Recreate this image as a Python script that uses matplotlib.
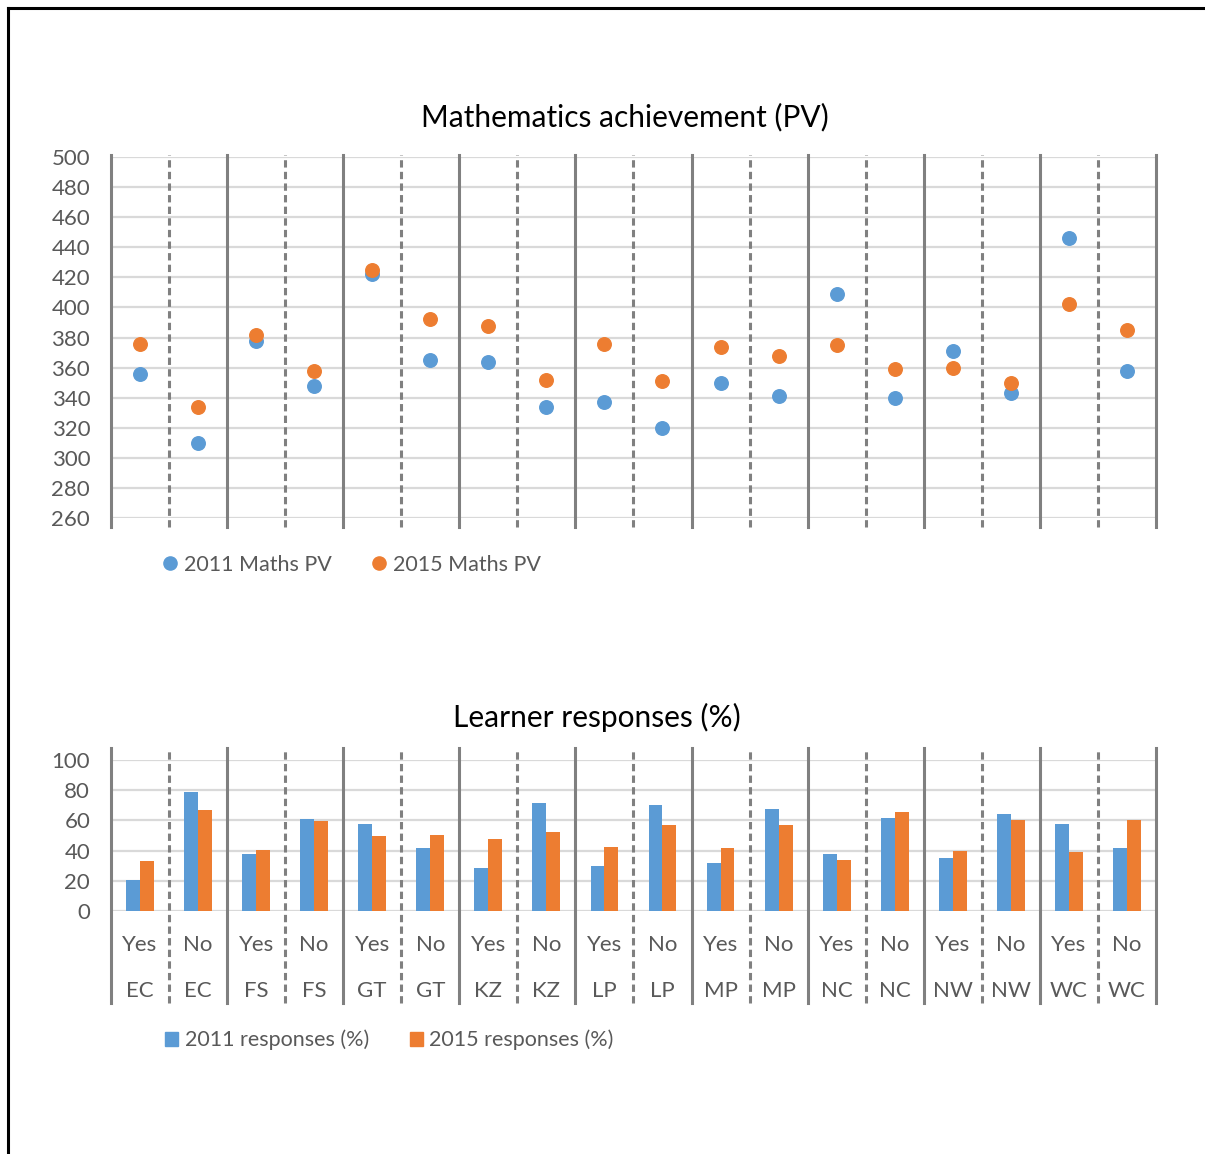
import numpy as np
import matplotlib.pyplot as plt
import matplotlib.transforms as mtransforms
from matplotlib.lines import Line2D
from matplotlib.patches import Patch

plt.rcParams['font.family'] = ['Lato', 'DejaVu Sans']

provinces = ["EC", "FS", "GT", "KZ", "LP", "MP", "NC", "NW", "WC"]
answers = ["Yes", "No"]

# mean maths plausible values, Yes/No per province
pv_2011 = [356, 310, 378, 348, 422, 365, 364, 334, 337, 320,
           350, 341, 409, 340, 371, 343, 446, 358]
pv_2015 = [376, 334, 382, 358, 425, 392, 388, 352, 376, 351,
           374, 368, 375, 359, 360, 350, 402, 385]

# share of learners giving each answer (%)
resp_2011 = [20.5, 79, 38, 61, 57.5, 42, 28.5, 71.5, 29.5, 70,
             32, 67.5, 38, 61.5, 35, 64.5, 57.5, 42]
resp_2015 = [33, 67, 40.5, 59.5, 49.5, 50, 47.5, 52, 42.5, 57,
             42, 57, 34, 65.5, 39.5, 60, 39, 60.5]

pv_ticks = list(range(260, 501, 20))
resp_ticks = list(range(0, 101, 20))

BLUE = '#5b9bd5'
ORANGE = '#ed7d31'
GRID = '#d9d9d9'
SEP = '#808080'
TXT = '#595959'

cat_ans = answers * len(provinces)
cat_prov = [p for p in provinces for _ in answers]
n = len(cat_ans)
xc = np.arange(n) + 0.5

fig = plt.figure(figsize=(12.05, 11.54), dpi=100)

# outer frame (left and top edges)
fig.add_artist(Line2D([0.0066, 0.0066], [0.0, 0.9935], color='black', lw=2.2))
fig.add_artist(Line2D([0.0066, 1.0], [0.9935, 0.9935], color='black', lw=2.2))


def style_axes(ax, ticks, lo, hi):
    ax.set_xlim(0, n)
    ax.set_ylim(ticks[0], ticks[-1])
    ax.set_yticks(ticks)
    ax.set_xticks([])
    for s in ax.spines.values():
        s.set_visible(False)
    ax.yaxis.grid(True, color=GRID, lw=1.6)
    ax.set_axisbelow(True)
    ax.tick_params(axis='y', length=0, pad=15, labelsize=16, labelcolor=TXT)
    trans = mtransforms.blended_transform_factory(ax.transData, ax.transAxes)
    for i in range(n + 1):
        ls = '-' if i % 2 == 0 else (0, (2.4, 1.4))
        ax.plot([i, i], [lo, hi], transform=trans, color=SEP, lw=2.2,
                ls=ls, clip_on=False, zorder=1.5)


# top panel: scatter of plausible values
ax1 = fig.add_axes([0.0921, 0.5511, 0.8672, 0.3128])
style_axes(ax1, pv_ticks, -0.025, 1.006)
ax1.scatter(xc, pv_2011, s=95, color=BLUE, zorder=3, label='2011 Maths PV')
ax1.scatter(xc, pv_2015, s=95, color=ORANGE, zorder=3, label='2015 Maths PV')
fig.text(0.5187, 0.8986, 'Mathematics achievement (PV)', ha='center',
         va='center', fontsize=21.5, color='black')
h1 = [Line2D([], [], marker='o', ls='', color=BLUE, markersize=9.5),
      Line2D([], [], marker='o', ls='', color=ORANGE, markersize=9.5)]
fig.legend(h1, ['2011 Maths PV', '2015 Maths PV'], loc='center left',
           bbox_to_anchor=(0.1336, 0.5104), ncol=2, frameon=False,
           fontsize=15.5, labelcolor=TXT, handlelength=0.8, handletextpad=0.25,
           columnspacing=1.8, borderpad=0, borderaxespad=0)

# bottom panel: grouped bars of response shares
ax2 = fig.add_axes([0.0921, 0.2106, 0.8672, 0.1308])
style_axes(ax2, resp_ticks, -0.609, 1.079)
w = 0.24
ax2.bar(xc - w / 2, resp_2011, width=w, color=BLUE, zorder=2)
ax2.bar(xc + w / 2, resp_2015, width=w, color=ORANGE, zorder=2)
trans2 = mtransforms.blended_transform_factory(ax2.transData, ax2.transAxes)
for xi, a, p in zip(xc, cat_ans, cat_prov):
    ax2.text(xi, -0.225, a, transform=trans2, ha='center', va='center',
             fontsize=16, color=TXT)
    ax2.text(xi, -0.53, p, transform=trans2, ha='center', va='center',
             fontsize=16, color=TXT)
fig.text(0.4954, 0.3787, 'Learner responses (%)', ha='center',
         va='center', fontsize=21.5, color='black')
h2 = [Patch(color=BLUE), Patch(color=ORANGE)]
fig.legend(h2, ['2011 responses (%)', '2015 responses (%)'], loc='center left',
           bbox_to_anchor=(0.1372, 0.0988), ncol=2, frameon=False,
           fontsize=15.5, labelcolor=TXT, handlelength=0.6, handleheight=0.6,
           handletextpad=0.3, columnspacing=1.9, borderpad=0, borderaxespad=0)

fig.savefig('out.png', dpi=100)
